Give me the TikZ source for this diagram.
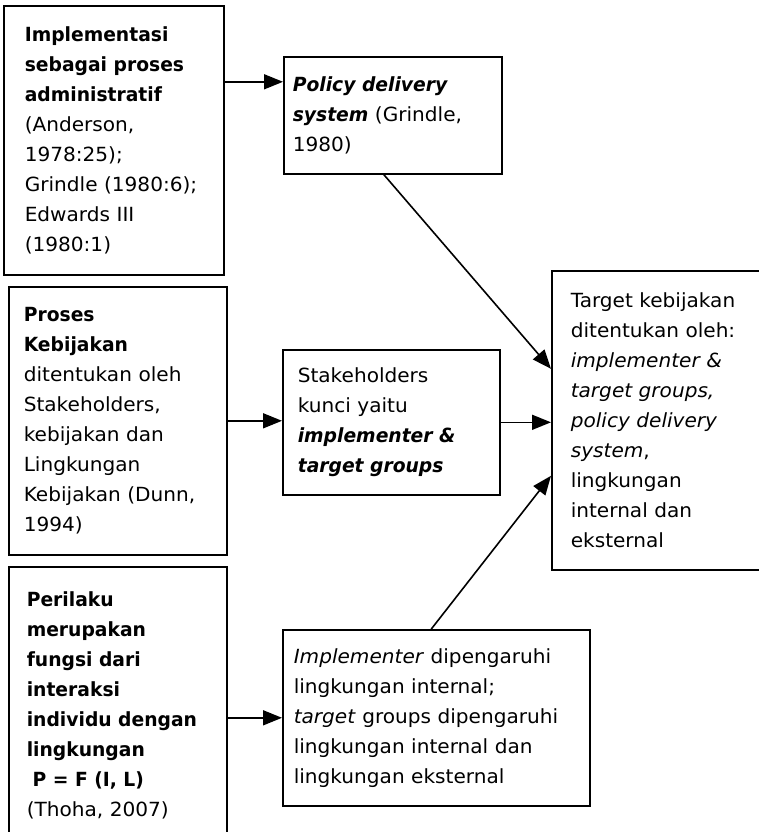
\documentclass[tikz,border=0pt]{standalone}
\usepackage{fontspec}
\setmainfont{DejaVu Sans}[UprightFeatures={FakeStretch=1.03},ItalicFeatures={FakeStretch=1.03},BoldFeatures={FakeStretch=0.96},BoldItalicFeatures={FakeStretch=0.96}]
\usepackage{tikz}
\usetikzlibrary{arrows.meta}
\tikzset{>={Triangle[length=19pt,width=15pt]}}
\tikzset{kotak/.style = {draw,line width=1.6pt,anchor=north west,align=left,font=\fontsize{19.5}{30}\selectfont}}
\tikzset{panah/.style = {->,line width=1.6pt}}

\begin{document}
\begin{tikzpicture}[x=1pt,y=-1pt]
                    \useasboundingbox (0,0) rectangle (759,832);
                    \node[kotak,text width=178pt,inner xsep=21pt,minimum height=269pt] (Impl) at (3,5) {\textbf{Implementasi}\\ \textbf{sebagai proses}\\ \textbf{administratif}\\ (Anderson,\\ 1978:25);\\ Grindle (1980:6);\\ Edwards III\\ (1980:1)};
                    \node[kotak,text width=200pt,inner xsep=9pt,minimum height=117pt] (Pds) at (283,56) {\textbf{\textit{Policy delivery}}\\ \textbf{\textit{system}} (Grindle,\\ 1980)};
                    \node[kotak,text width=188pt,inner xsep=15pt,minimum height=268pt] (Pk) at (8,286) {\textbf{Proses}\\ \textbf{Kebijakan}\\ ditentukan oleh\\ Stakeholders,\\ kebijakan dan\\ Lingkungan\\ Kebijakan (Dunn,\\ 1994)};
                    \node[kotak,text width=187pt,inner xsep=15pt,minimum height=145pt] (Sh) at (282,349) {Stakeholders\\ kunci yaitu\\ \textbf{\textit{implementer \&}}\\ \textbf{\textit{target groups}}};
                    \node[kotak,text width=174pt,inner xsep=19pt,minimum height=299pt] (Tk) at (551,270) {Target kebijakan\\ ditentukan oleh:\\ \textit{implementer \&}\\ \textit{target groups,}\\ \textit{policy delivery}\\ \textit{system},\\ lingkungan\\ internal dan\\ eksternal};
                    \node[kotak,text width=182pt,inner xsep=18pt,minimum height=278pt] (Pl) at (8,566) {\textbf{Perilaku}\\ \textbf{merupakan}\\ \textbf{fungsi dari}\\ \textbf{interaksi}\\ \textbf{individu dengan}\\ \textbf{lingkungan}\\ \hspace*{0.3em}\textbf{P = F (I, L)}\\ (Thoha, 2007)};
                    \node[kotak,text width=285pt,inner xsep=11pt,minimum height=176pt] (Im) at (282,629) {\textit{Implementer} dipengaruhi\\ lingkungan internal;\\ \textit{target} groups dipengaruhi\\ lingkungan internal dan\\ lingkungan eksternal};

                    \coordinate (a1) at ([yshift=58.5pt]Impl.east);
                    \draw[panah] (a1) -- (a1 -| Pds.west);
                    \draw[panah] (Pk.east) -- (Pk.east -| Sh.west);
                    \draw[panah] (Pl.east |- Im.west) -- (Im.west);
                    \draw[panah] (Sh.east) -- (Sh.east -| Tk.west);
                    \draw[panah] ([xshift=-9pt]Pds.south) -- ([yshift=51.5pt]Tk.west);
                    \draw[panah] ([xshift=-5pt]Im.north) -- ([yshift=-55.5pt]Tk.west);
                \end{tikzpicture}
\end{document}
